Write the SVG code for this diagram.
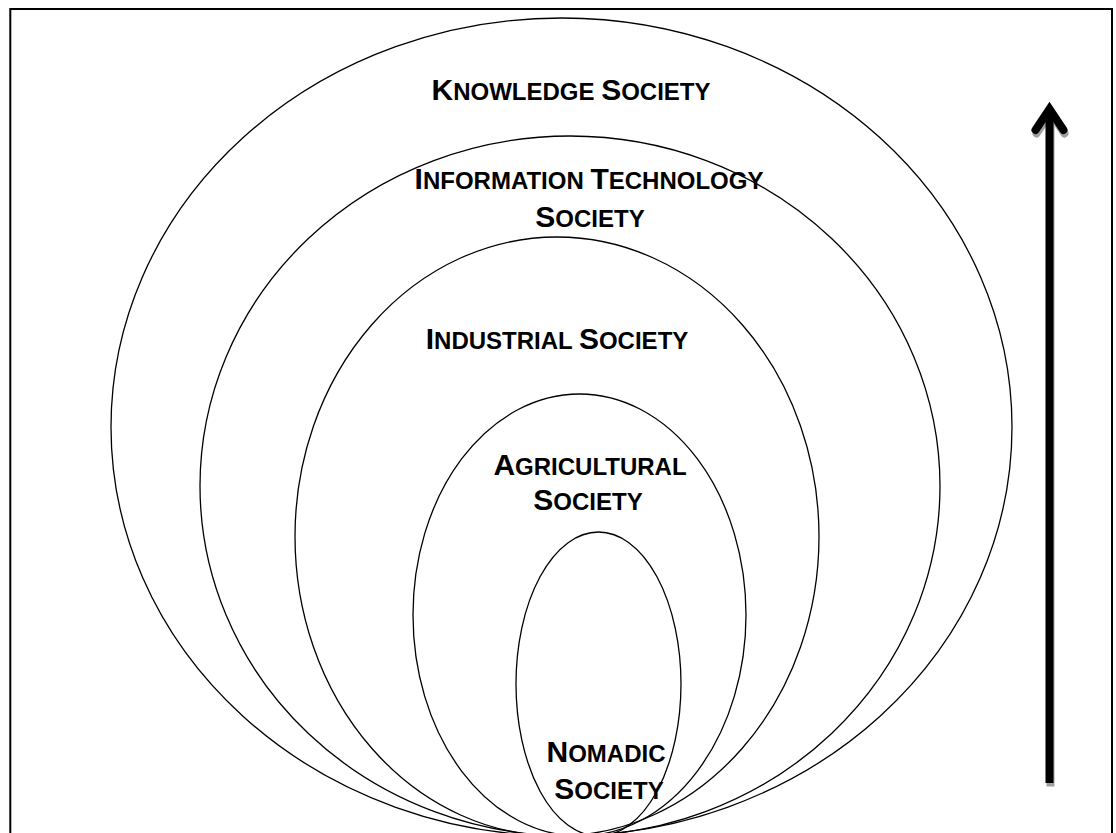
<svg xmlns="http://www.w3.org/2000/svg" width="1116" height="833" viewBox="0 0 1116 833">
<style>
.ring{fill:none;stroke:#000;stroke-width:1.3}
.lbl{font-family:"Liberation Sans",Arial,sans-serif;font-weight:bold;font-size:24px;fill:#000;text-anchor:middle}
.big{font-size:30px}
</style>
<rect x="0" y="0" width="1116" height="833" fill="#fff"/>
<rect x="10.3" y="9" width="1101.7" height="840" fill="none" stroke="#000" stroke-width="2"/>
<g id="knowledge">
<ellipse class="ring" cx="561.5" cy="427" rx="450.5" ry="409"/>
<text class="lbl" x="571" y="100"><tspan class="big">K</tspan>NOWLEDGE <tspan class="big">S</tspan>OCIETY</text>
</g>
<g id="information">
<ellipse class="ring" cx="570" cy="486" rx="370" ry="350"/>
<text class="lbl" x="589" y="189"><tspan class="big">I</tspan>NFORMATION <tspan class="big">T</tspan>ECHNOLOGY</text>
<text class="lbl" x="590" y="227"><tspan class="big">S</tspan>OCIETY</text>
</g>
<g id="industrial">
<ellipse class="ring" cx="557" cy="536.5" rx="262" ry="299.5"/>
<text class="lbl" x="557" y="349"><tspan class="big">I</tspan>NDUSTRIAL <tspan class="big">S</tspan>OCIETY</text>
</g>
<g id="agricultural">
<ellipse class="ring" cx="579.5" cy="615" rx="166.5" ry="221"/>
<text class="lbl" x="590" y="475"><tspan class="big">A</tspan>GRICULTURAL</text>
<text class="lbl" x="588" y="510"><tspan class="big">S</tspan>OCIETY</text>
</g>
<g id="nomadic">
<ellipse class="ring" cx="598.5" cy="684" rx="82.5" ry="152"/>
<text class="lbl" x="606" y="762"><tspan class="big">N</tspan>OMADIC</text>
<text class="lbl" x="609" y="799"><tspan class="big">S</tspan>OCIETY</text>
</g>
<g id="connectors">
<g transform="translate(1,3.5)" stroke="#a0a0a0" fill="none" stroke-width="8">
<line x1="1049.5" y1="783" x2="1049.5" y2="112"/>
<polyline points="1035.5,130 1049.5,109 1063.5,130" stroke-linecap="round" stroke-linejoin="miter" stroke-miterlimit="10"/>
</g>
<g stroke="#000" fill="none" stroke-width="8">
<line x1="1049.5" y1="783" x2="1049.5" y2="112"/>
<polyline points="1035.5,130 1049.5,109 1063.5,130" stroke-linecap="round" stroke-linejoin="miter" stroke-miterlimit="10"/>
</g>
</g>
</svg>
